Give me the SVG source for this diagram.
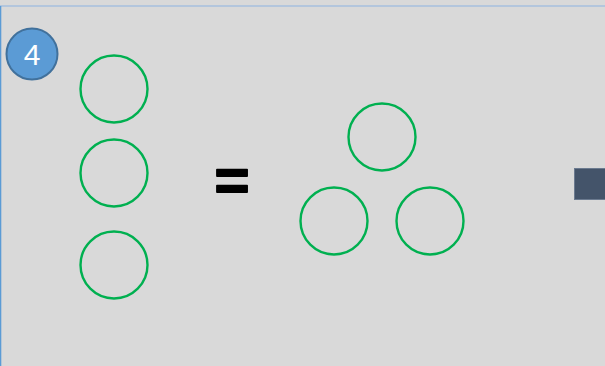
<svg xmlns="http://www.w3.org/2000/svg" width="605" height="366" viewBox="0 0 605 366">
<style>
.c{fill:none;stroke:#00b050;stroke-width:2.4}
</style>
<rect x="0" y="0" width="605" height="366" fill="#d9d9d9"/>
<line x1="0" y1="6" x2="605" y2="6" stroke="#8db3e2" stroke-width="1.2"/>
<line x1="0.6" y1="6" x2="0.6" y2="366" stroke="#5b9bd5" stroke-width="1.4"/>
<g id="badge">
<circle cx="32" cy="54" r="25.5" fill="#5b9bd5" stroke="#41719c" stroke-width="2"/>
<text x="32" y="65" font-family="Liberation Sans, Arial, sans-serif" font-size="30" fill="#ffffff" text-anchor="middle">4</text>
</g>
<g id="left-circles">
<circle class="c" cx="114" cy="89" r="33.5"/>
<circle class="c" cx="114" cy="173" r="33.5"/>
<circle class="c" cx="114" cy="265" r="33.5"/>
</g>
<g id="equals">
<text x="232" y="200" font-family="Liberation Sans, Arial, sans-serif" font-size="60" font-weight="bold" fill="#000000" stroke="#000000" stroke-width="1.8" stroke-linejoin="round" text-anchor="middle">=</text>
</g>
<g id="right-circles">
<circle class="c" cx="382" cy="137" r="33.5"/>
<circle class="c" cx="334" cy="221" r="33.5"/>
<circle class="c" cx="430" cy="221" r="33.5"/>
</g>
<g id="square">
<rect x="574.5" y="168.5" width="32" height="31" fill="#44546a" stroke="#6b7a8f" stroke-width="1"/>
</g>
</svg>
